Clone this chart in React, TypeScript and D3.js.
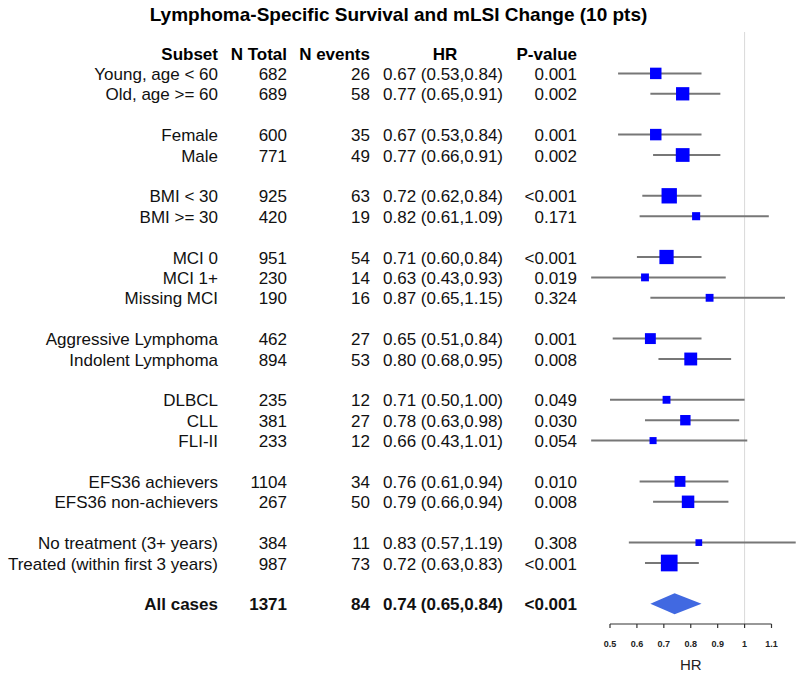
import React from "react";
import * as d3 from "d3";

const TITLE = "Lymphoma-Specific Survival and mLSI Change (10 pts)";
const headers = ["Subset", "N Total", "N events", "HR", "P-value"];

// group sizes (blank row between groups)
const groupSizes = [2, 2, 2, 3, 2, 3, 2, 2, 1];

const subsets = [
  "Young, age < 60", "Old, age >= 60",
  "Female", "Male",
  "BMI < 30", "BMI >= 30",
  "MCI 0", "MCI 1+", "Missing MCI",
  "Aggressive Lymphoma", "Indolent Lymphoma",
  "DLBCL", "CLL", "FLI-II",
  "EFS36 achievers", "EFS36 non-achievers",
  "No treatment (3+ years)", "Treated (within first 3 years)",
  "All cases",
];
const nTotal = [682, 689, 600, 771, 925, 420, 951, 230, 190, 462, 894, 235, 381, 233, 1104, 267, 384, 987, 1371];
const nEvents = [26, 58, 35, 49, 63, 19, 54, 14, 16, 27, 53, 12, 27, 12, 34, 50, 11, 73, 84];
const hr = [0.67, 0.77, 0.67, 0.77, 0.72, 0.82, 0.71, 0.63, 0.87, 0.65, 0.80, 0.71, 0.78, 0.66, 0.76, 0.79, 0.83, 0.72, 0.74];
const lower = [0.53, 0.65, 0.53, 0.66, 0.62, 0.61, 0.60, 0.43, 0.65, 0.51, 0.68, 0.50, 0.63, 0.43, 0.61, 0.66, 0.57, 0.63, 0.65];
const upper = [0.84, 0.91, 0.84, 0.91, 0.84, 1.09, 0.84, 0.93, 1.15, 0.84, 0.95, 1.00, 0.98, 1.01, 0.94, 0.94, 1.19, 0.83, 0.84];
const pValues = ["0.001", "0.002", "0.001", "0.002", "<0.001", "0.171", "<0.001", "0.019", "0.324", "0.001", "0.008", "0.049", "0.030", "0.054", "0.010", "0.008", "0.308", "<0.001", "<0.001"];
const axisTicks = [0.5, 0.6, 0.7, 0.8, 0.9, 1, 1.1];
const AXIS_LABEL = "HR";

const FONT = "'Liberation Sans', Arial, Helvetica, sans-serif";

export default function App() {
  const width = 800;
  const height = 675;

  // row indices
  const rowIdx: number[] = [];
  let r = 1;
  groupSizes.forEach((g) => {
    for (let k = 0; k < g; k++) rowIdx.push(r++);
    r++;
  });
  const y = (i: number) => 53 + i * 20.4;
  const x = d3.scaleLinear().domain([0.5, 1.1]).range([610, 771.5]);
  const boxSize = (lo: number, hi: number) => 1.95 + 2.95 / (hi - lo);
  const nRows = subsets.length;
  const axisY = 624;
  const fmt = d3.format(".2f");
  const fmtTick = (v: number) => (v === 1 ? "1" : String(v));

  const colSubset = 218, colNT = 287, colNE = 370, colHR = 383, colP = 577;

  return (
    <svg width={width} height={height} style={{ display: "block", position: "absolute", left: 0, top: 0, background: "#fff" }} fontFamily={FONT}>
      <rect x={0} y={0} width={width} height={height} fill="#fff" />
      <text x={398.5} y={21} textAnchor="middle" fontSize={19} fontWeight="bold" fill="#000">{TITLE}</text>

      {/* reference line */}
      <line x1={x(1)} x2={x(1)} y1={32} y2={axisY} stroke="#d9d9d9" strokeWidth={1} />

      {/* header */}
      <g fontSize={17} fontWeight="bold" fill="#000">
        <text x={colSubset} y={y(0) + 6.6} textAnchor="end">{headers[0]}</text>
        <text x={colNT} y={y(0) + 6.6} textAnchor="end">{headers[1]}</text>
        <text x={colNE} y={y(0) + 6.6} textAnchor="end">{headers[2]}</text>
        <text x={445} y={y(0) + 6.6} textAnchor="middle">{headers[3]}</text>
        <text x={colP} y={y(0) + 6.6} textAnchor="end">{headers[4]}</text>
      </g>

      {subsets.map((s, i) => {
        const yy = y(rowIdx[i]);
        const isSummary = i === nRows - 1;
        const tb = yy + 6.6;
        return (
          <g key={s} fontSize={17} fill="#111" fontWeight={isSummary ? "bold" : "normal"}>
            <text x={colSubset} y={tb} textAnchor="end">{s}</text>
            <text x={colNT} y={tb} textAnchor="end">{nTotal[i]}</text>
            <text x={colNE} y={tb} textAnchor="end">{nEvents[i]}</text>
            <text x={colHR} y={tb} textAnchor="start">{`${fmt(hr[i])} (${fmt(lower[i])},${fmt(upper[i])})`}</text>
            <text x={colP} y={tb} textAnchor="end">{pValues[i]}</text>
          </g>
        );
      })}

      {/* forest marks */}
      {subsets.map((s, i) => {
        const yy = y(rowIdx[i]);
        const isSummary = i === nRows - 1;
        if (isSummary) {
          const h = 10.5;
          const pts = [
            [x(lower[i]), yy],
            [x(hr[i]), yy - h],
            [x(upper[i]), yy],
            [x(hr[i]), yy + h],
          ];
          return <polygon key={"m" + s} points={pts.map((p) => p.join(",")).join(" ")} fill="#4169E1" />;
        }
        const b = boxSize(lower[i], upper[i]);
        return (
          <g key={"m" + s}>
            <line x1={x(lower[i])} x2={x(upper[i])} y1={yy} y2={yy} stroke="#777" strokeWidth={2} />
            <rect x={x(hr[i]) - b / 2} y={yy - b / 2} width={b} height={b} fill="#0000ff" />
          </g>
        );
      })}

      {/* axis */}
      <g stroke="#333" strokeWidth={1.2} fill="none">
        <line x1={x(0.5)} x2={x(1.1)} y1={axisY} y2={axisY} />
        {axisTicks.map((t) => (
          <line key={t} x1={x(t)} x2={x(t)} y1={axisY} y2={axisY + 4} />
        ))}
      </g>
      <g fontSize={9} fill="#222" textAnchor="middle" fontWeight="bold">
        {axisTicks.map((t) => (
          <text key={t} x={x(t)} y={647}>{fmtTick(t)}</text>
        ))}
      </g>
      <text x={x(0.8)} y={670} textAnchor="middle" fontSize={15} fill="#222">{AXIS_LABEL}</text>
    </svg>
  );
}
